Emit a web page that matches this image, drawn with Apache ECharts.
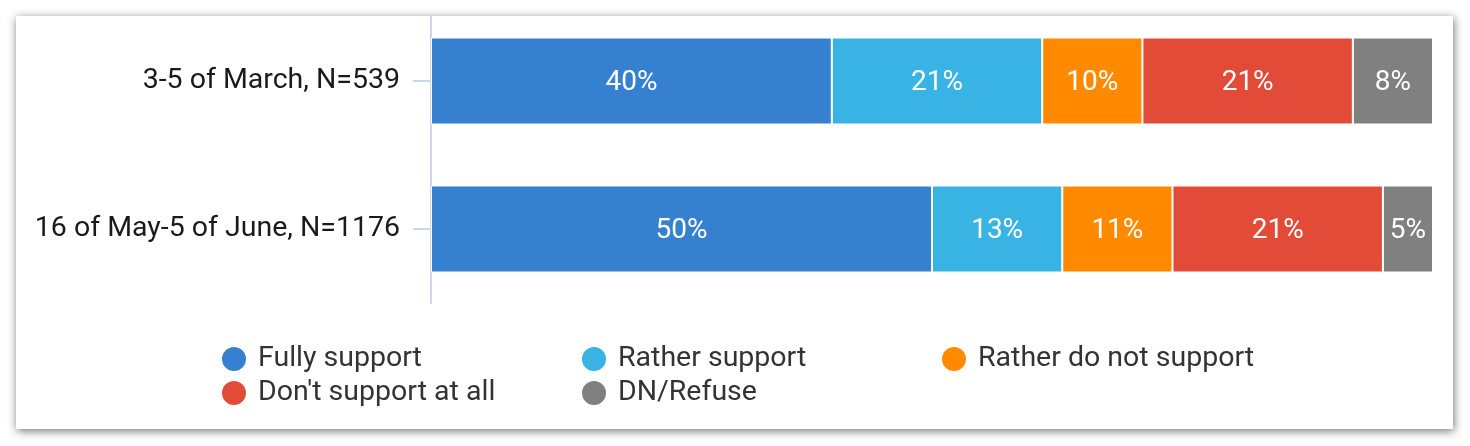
<!DOCTYPE html>
<html>
<head>
<meta charset="utf-8">
<script src="https://cdn.jsdelivr.net/npm/echarts@6/dist/echarts.min.js"></script>
<style>
  html, body { margin: 0; padding: 0; background: #ffffff; }
  body { width: 1470px; height: 446px; position: relative; overflow: hidden; }
  #card { position: absolute; left: 16px; top: 16px; width: 1437px; height: 413px;
          background: #fff; overflow: hidden; box-shadow: 1px 2px 9px rgba(0,0,0,0.55); }
  #chart { position: absolute; left: -16px; top: -16px; width: 1470px; height: 446px; }
</style>
</head>
<body>
<div id="card"><div id="chart"></div></div>
<script>
const categories = ['3-5 of March, N=539', '16 of May-5 of June, N=1176'];
const seriesNames = ['Fully support', 'Rather support', 'Rather do not support', "Don't support at all", 'DN/Refuse'];
const fullySupport = [40, 50];
const ratherSupport = [21, 13];
const ratherNotSupport = [10, 11];
const notAtAll = [21, 21];
const dnRefuse = [8, 5];
const colors = ['#3680d0', '#38b3e3', '#ff8a00', '#e14b37', '#808080'];

const values = [fullySupport, ratherSupport, ratherNotSupport, notAtAll, dnRefuse];

const chart = echarts.init(document.getElementById('chart'), null, { renderer: 'canvas' });

const legendBase = {
  orient: 'vertical',
  top: 337,
  itemWidth: 26,
  itemHeight: 26,
  itemGap: 0,
  icon: 'circle',
  selectedMode: false,
  textStyle: { fontFamily: 'Roboto', fontSize: 28.5, color: '#333333', lineHeight: 34, padding: [0, 0, 0, 6] }
};

chart.setOption({
  animation: false,
  color: colors,
  grid: { left: 431, right: 37, top: 7, bottom: 143, containLabel: false },
  legend: [
    Object.assign({}, legendBase, { left: 215, data: [seriesNames[0], seriesNames[3]] }),
    Object.assign({}, legendBase, { left: 575, data: [seriesNames[1], seriesNames[4]] }),
    Object.assign({}, legendBase, { left: 935, data: [seriesNames[2]] })
  ],
  xAxis: { type: 'value', min: 0, max: 100, show: false },
  yAxis: {
    type: 'category',
    inverse: true,
    data: categories,
    axisLine: { show: true, lineStyle: { color: '#cad6ea', width: 2 } },
    axisTick: { show: true, length: 18, alignWithLabel: true, lineStyle: { color: '#cad6ea', width: 2 } },
    axisLabel: { margin: 31, fontFamily: 'Roboto', fontSize: 28.5, color: '#1a1a1a' },
    splitLine: { show: false }
  },
  series: seriesNames.map((name, i) => ({
    name: name,
    type: 'bar',
    stack: 'total',
    barWidth: 87,
    data: values[i],
    itemStyle: { color: colors[i], borderColor: '#ffffff', borderWidth: 1 },
    label: {
      show: true,
      position: 'inside',
      formatter: '{c}%',
      color: '#ffffff',
      fontFamily: 'Roboto',
      fontWeight: 'normal',
      fontSize: 28,
      offset: [0, 2]
    }
  }))
});
</script>
</body>
</html>
